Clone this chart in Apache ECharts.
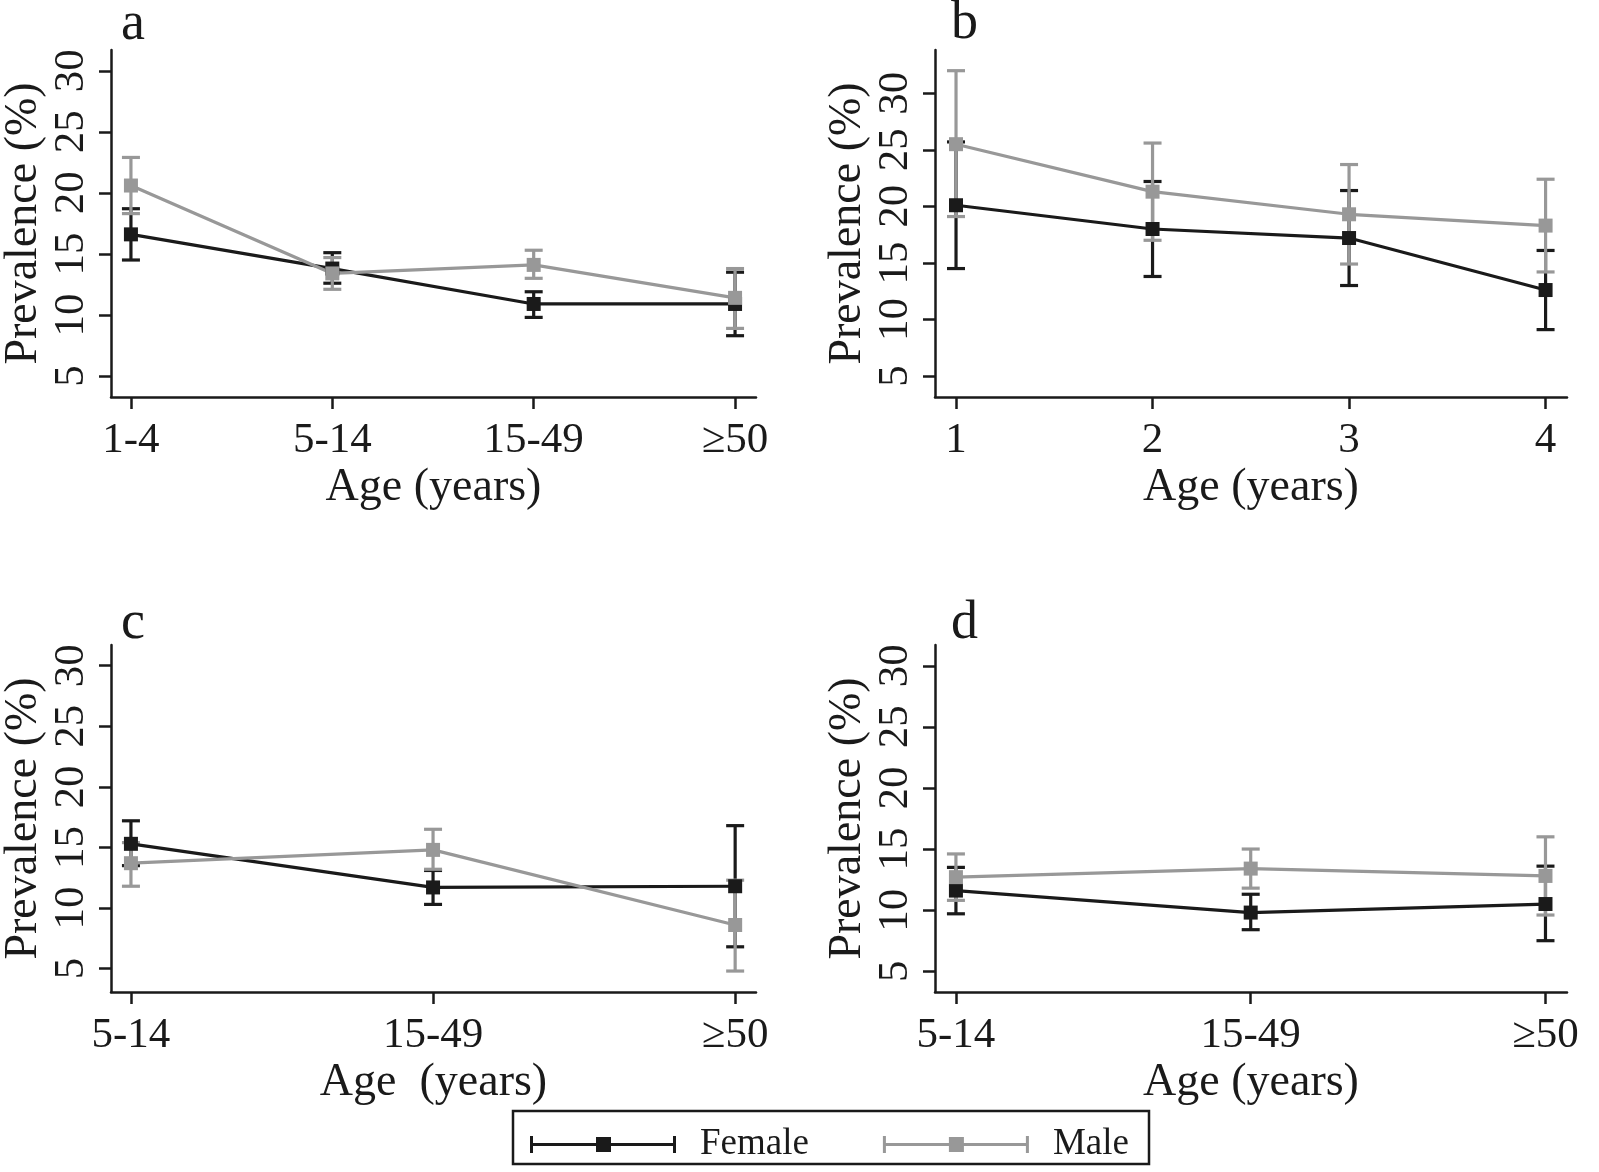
<!DOCTYPE html>
<html><head><meta charset="utf-8">
<script src="https://cdn.jsdelivr.net/npm/echarts@6.0.0/dist/echarts.min.js"></script>
<style>html,body{margin:0;padding:0;background:#fff}#c{width:1599px;height:1172px}</style>
</head><body><div id="c"></div>
<script>
// ---------- data ----------
const catsA = ['1-4', '5-14', '15-49', '\u226550'];
const femaleA = [16.6, 13.8, 10.9, 10.9];
const femaleALo = [14.5, 12.6, 9.8, 8.3];
const femaleAHi = [18.7, 15.1, 11.9, 13.5];
const maleA = [20.6, 13.4, 14.1, 11.4];
const maleALo = [18.3, 12.1, 13.0, 8.9];
const maleAHi = [22.9, 14.7, 15.3, 13.8];

const catsB = ['1', '2', '3', '4'];
const femaleB = [20.1, 18.0, 17.2, 12.6];
const femaleBLo = [14.5, 13.8, 13.0, 9.1];
const femaleBHi = [25.7, 22.2, 21.4, 16.1];
const maleB = [25.5, 21.3, 19.3, 18.3];
const maleBLo = [19.1, 17.0, 14.9, 14.2];
const maleBHi = [32.0, 25.6, 23.7, 22.4];

const catsC = ['5-14', '15-49', '\u226550'];
const femaleC = [15.3, 11.7, 11.8];
const femaleCLo = [13.5, 10.3, 6.8];
const femaleCHi = [17.2, 13.1, 16.8];
const maleC = [13.7, 14.8, 8.6];
const maleCLo = [11.8, 13.2, 4.8];
const maleCHi = [15.4, 16.5, 12.3];

const catsD = ['5-14', '15-49', '\u226550'];
const femaleD = [11.6, 9.8, 10.5];
const femaleDLo = [9.7, 8.4, 7.5];
const femaleDHi = [13.5, 11.3, 13.6];
const maleD = [12.7, 13.4, 12.8];
const maleDLo = [10.8, 11.8, 9.6];
const maleDHi = [14.6, 15.0, 16.0];

const yTickValues = [5, 10, 15, 20, 25, 30];
const panelLetters = ['a', 'b', 'c', 'd'];
const xTitles = ['Age (years)', 'Age (years)', 'Age  (years)', 'Age (years)'];
const yTitle = 'Prevalence (%)';
const seriesNames = ['Female', 'Male'];

// ---------- layout / style ----------
const FONT = '"Liberation Serif", "Times New Roman", serif';
const INK = '#1a1a1a';
const GRAY = '#989898';

const panels = [
  {cats: catsA, f: femaleA, fLo: femaleALo, fHi: femaleAHi, m: maleA, mLo: maleALo, mHi: maleAHi,
   grid: {left: 110, top: 50, width: 646, height: 347}, xr: [0.901, 4.104], yr: [3.28, 31.7]},
  {cats: catsB, f: femaleB, fLo: femaleBLo, fHi: femaleBHi, m: maleB, mLo: maleBLo, mHi: maleBHi,
   grid: {left: 935, top: 50, width: 632, height: 347}, xr: [0.893, 4.109], yr: [3.14, 33.83]},
  {cats: catsC, f: femaleC, fLo: femaleCLo, fHi: femaleCHi, m: maleC, mLo: maleCLo, mHi: maleCHi,
   grid: {left: 110, top: 645, width: 646, height: 347}, xr: [0.934, 3.069], yr: [3.07, 31.71]},
  {cats: catsD, f: femaleD, fLo: femaleDLo, fHi: femaleDHi, m: maleD, mLo: maleDLo, mHi: maleDHi,
   grid: {left: 935, top: 645, width: 632, height: 347}, xr: [0.929, 3.073], yr: [3.30, 31.7]}
];
const letterPos = [[121, -2], [951, -3], [121, 597], [951, 597]];

function errRender(color) {
  return function (params, api) {
    const x = api.value(0), lo = api.value(1), hi = api.value(2);
    const pLo = api.coord([x, lo]), pHi = api.coord([x, hi]);
    const hw = 9;
    const style = {stroke: color, lineWidth: 3.2, fill: null};
    return {type: 'group', children: [
      {type: 'line', shape: {x1: pHi[0], y1: pHi[1], x2: pLo[0], y2: pLo[1]}, style: style},
      {type: 'line', shape: {x1: pHi[0] - hw, y1: pHi[1], x2: pHi[0] + hw, y2: pHi[1]}, style: style},
      {type: 'line', shape: {x1: pLo[0] - hw, y1: pLo[1], x2: pLo[0] + hw, y2: pLo[1]}, style: style}
    ]};
  };
}

const grids = [], xAxes = [], yAxes = [], series = [], titles = [];
panels.forEach(function (p, i) {
  grids.push(Object.assign({containLabel: false}, p.grid));
  const xt = p.cats.map(function (c, j) { return j + 1; });
  xAxes.push({
    gridIndex: i, type: 'value', min: p.xr[0], max: p.xr[1],
    axisLine: {show: true, onZero: false, lineStyle: {color: INK, width: 2.5}},
    axisTick: {show: true, length: 12, customValues: xt, lineStyle: {color: INK, width: 2.5}},
    axisLabel: {customValues: xt, margin: 22, fontSize: 43, fontFamily: FONT, color: INK,
      formatter: function (v) { return p.cats[Math.round(v) - 1]; }},
    splitLine: {show: false},
    name: xTitles[i], nameLocation: 'middle', nameGap: 68,
    nameTextStyle: {fontSize: 46, fontFamily: FONT, color: INK}
  });
  yAxes.push({
    gridIndex: i, type: 'value', min: p.yr[0], max: p.yr[1],
    axisLine: {show: true, onZero: false, lineStyle: {color: INK, width: 2.5}},
    axisTick: {show: true, length: 12, customValues: yTickValues, lineStyle: {color: INK, width: 2.5}},
    axisLabel: {customValues: yTickValues, rotate: 90, margin: 18, fontSize: 43, fontFamily: FONT, color: INK},
    splitLine: {show: false},
    name: yTitle, nameLocation: 'middle', nameRotate: 90, nameGap: 64,
    nameTextStyle: {fontSize: 46, fontFamily: FONT, color: INK}
  });
  const groups = [
    {name: seriesNames[0], v: p.f, lo: p.fLo, hi: p.fHi, color: INK},
    {name: seriesNames[1], v: p.m, lo: p.mLo, hi: p.mHi, color: GRAY}
  ];
  groups.forEach(function (g) {
    series.push({
      type: 'custom', name: g.name, xAxisIndex: i, yAxisIndex: i,
      itemStyle: {color: g.color},
      encode: {x: 0, y: [1, 2]},
      data: p.cats.map(function (c, j) { return [j + 1, g.lo[j], g.hi[j]]; }),
      renderItem: errRender(g.color)
    });
    series.push({
      type: 'line', name: g.name, xAxisIndex: i, yAxisIndex: i,
      symbol: 'rect', symbolSize: 14,
      lineStyle: {color: g.color, width: 3.2},
      itemStyle: {color: g.color},
      data: p.cats.map(function (c, j) { return [j + 1, g.v[j]]; })
    });
  });
  titles.push({text: panelLetters[i], left: letterPos[i][0], top: letterPos[i][1], padding: 0,
    textStyle: {fontSize: 54, fontWeight: 'normal', fontFamily: FONT, color: INK}});
});

const ICON = 'path://M0,7 L146,7 L146,10 L0,10 Z M0,0 L3,0 L3,17 L0,17 Z M143,0 L146,0 L146,17 L143,17 Z M66,1 L81,1 L81,16 L66,16 Z';

const chart = echarts.init(document.getElementById('c'), null, {renderer: 'canvas'});
chart.setOption({
  backgroundColor: '#fff',
  animation: false,
  title: titles,
  grid: grids,
  xAxis: xAxes,
  yAxis: yAxes,
  legend: {
    data: [{name: seriesNames[0], icon: ICON}, {name: seriesNames[1], icon: ICON}],
    left: 530, top: 1126, padding: 0, itemWidth: 146, itemHeight: 17, itemGap: 74,
    selectedMode: false,
    textStyle: {fontSize: 37, fontFamily: FONT, color: INK, padding: [0, 0, 0, 19]}
  },
  graphic: [{type: 'rect', shape: {x: 513, y: 1111, width: 636, height: 53},
    style: {fill: null, stroke: INK, lineWidth: 2.5}, silent: true}],
  series: series
});
</script>
</body></html>
